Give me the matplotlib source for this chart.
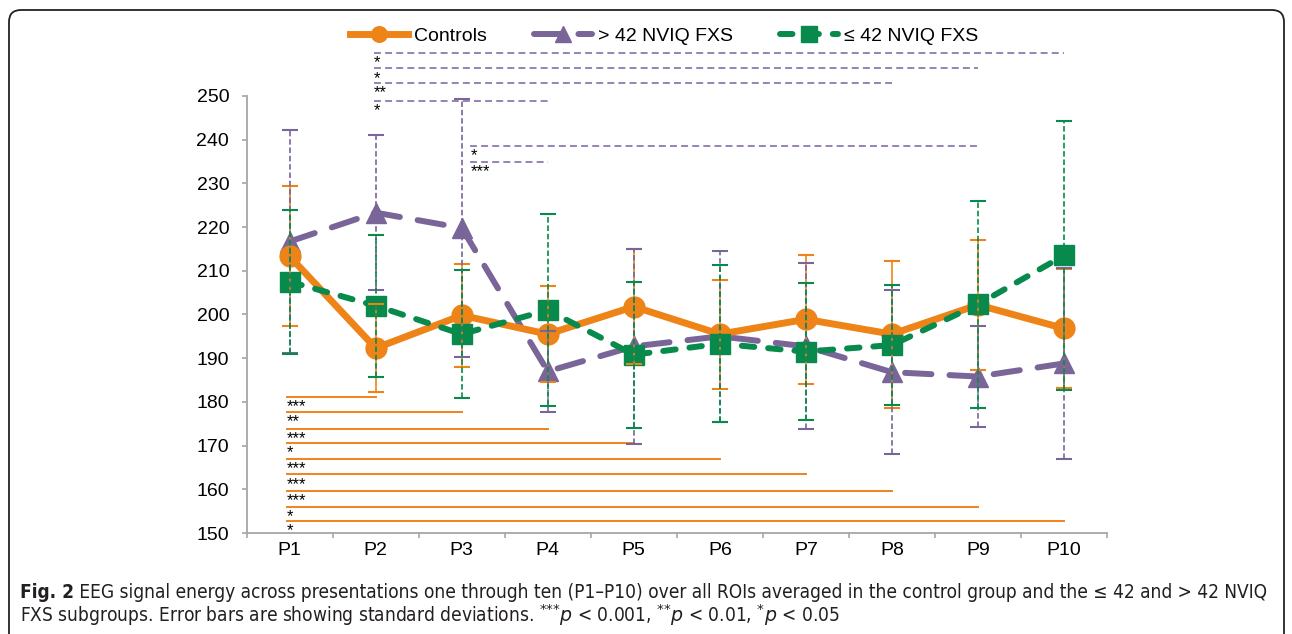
import matplotlib
matplotlib.use("Agg")
import matplotlib.pyplot as plt
from matplotlib import font_manager
from matplotlib.patches import FancyBboxPatch
from matplotlib.transforms import IdentityTransform
import numpy as np

# ---- data ----
categories = ["P1", "P2", "P3", "P4", "P5", "P6", "P7", "P8", "P9", "P10"]

controls = [213.3, 192.3, 199.8, 195.5, 201.8, 195.5, 198.9, 195.5, 202.2, 196.8]
controls_sd = [16.0, 10.0, 11.8, 11.0, 13.2, 12.5, 14.7, 16.8, 14.8, 13.7]

high_nviq = [216.7, 223.3, 219.8, 187.0, 192.7, 195.0, 192.7, 186.8, 185.8, 188.8]
high_nviq_sd = [25.6, 17.8, 29.5, 9.3, 22.3, 19.5, 19.0, 18.8, 11.5, 21.8]

low_nviq = [207.5, 202.0, 195.5, 201.0, 190.8, 193.3, 191.5, 193.0, 202.3, 213.5]
low_nviq_sd = [16.5, 16.2, 14.6, 22.0, 16.7, 18.0, 15.7, 13.7, 23.7, 30.8]

# significance brackets: controls P1 vs Pk
ctrl_sig_end = [2, 3, 4, 5, 6, 7, 8, 9, 10]
ctrl_sig_level = [181.2, 177.8, 173.9, 170.7, 166.9, 163.4, 159.6, 156.0, 152.7]
ctrl_sig_label = ["***", "**", "***", "*", "***", "***", "***", "*", "*"]

# > 42 NVIQ FXS: P2 vs Pk and P3 vs Pk
p2_sig_end = [10, 9, 8, 4]
p2_sig_level = [259.8, 256.3, 252.9, 248.9]
p2_sig_label = ["*", "*", "**", "*"]
p3_sig_end = [9, 4]
p3_sig_level = [238.6, 235.0]
p3_sig_label = ["*", "***"]

ORANGE = "#EE8418"
PURPLE = "#7A6599"
GREEN = "#078A4B"

# caption font: a condensed sans if one is installed
cap_family, cap_stretch = "Liberation Sans", "normal"
for f in font_manager.fontManager.ttflist:
    narrow = ("Narrow" in f.name or "Condensed" in f.name
              or f.stretch in ("condensed", "semi-condensed", 500 - 100, 300))
    if narrow and f.style == "normal" and f.weight in (400, "normal", "regular"):
        cap_family, cap_stretch = f.name, f.stretch
        break

plt.rcParams["font.family"] = ["Liberation Sans", "DejaVu Sans"]
plt.rcParams["lines.scale_dashes"] = False
plt.rcParams["mathtext.fontset"] = "custom"
plt.rcParams["mathtext.rm"] = cap_family
plt.rcParams["mathtext.it"] = cap_family + ":italic"

fig = plt.figure(figsize=(12.92, 6.34), dpi=100)
ax = fig.add_axes([0.1909, 0.1593, 0.6659, 0.6893])
x = np.arange(1, len(categories) + 1)

# ---- series ----
l_hi, = ax.plot(x, high_nviq, color=PURPLE, lw=4.3, ls=(0, (19, 13)), dash_capstyle="round",
                marker="^", ms=15, zorder=3, label="> 42 NVIQ FXS")
l_ct, = ax.plot(x, controls, color=ORANGE, lw=5, marker="o", ms=15, zorder=4, label="Controls")
l_lo, = ax.plot(x, low_nviq, color=GREEN, lw=4.3, ls=(0, (9, 10)), dash_capstyle="round",
                marker="s", ms=15, zorder=5, label="\u2264 42 NVIQ FXS")

for y, sd, c, ls in [(controls, controls_sd, ORANGE, "-"),
                     (high_nviq, high_nviq_sd, PURPLE, (0, (4, 2))),
                     (low_nviq, low_nviq_sd, GREEN, (0, (4, 2)))]:
    eb = ax.errorbar(x, y, yerr=sd, fmt="none", ecolor=c, elinewidth=1.2, capsize=6,
                     capthick=1.5, zorder=6)
    eb[2][0].set_linestyle(ls)

# ---- significance lines ----
for end, lev, lab in zip(ctrl_sig_end, ctrl_sig_level, ctrl_sig_label):
    ax.plot([0.97, end], [lev, lev], color=ORANGE, lw=1.4, clip_on=False, zorder=2)
    ax.text(0.97, lev - 0.5, lab, fontsize=12, va="top", ha="left")

for start, ends, levs, labs in [(1.98, p2_sig_end, p2_sig_level, p2_sig_label),
                               (3.1, p3_sig_end, p3_sig_level, p3_sig_label)]:
    for end, lev, lab in zip(ends, levs, labs):
        ax.plot([start, end], [lev, lev], color="#8C7AB0", lw=1.3, ls=(0, (5, 3)),
                clip_on=False, zorder=2)
        ax.text(start, lev - 0.5, lab, fontsize=12, va="top", ha="left")

# ---- axes ----
ax.set_xlim(0.5, 10.5)
ax.set_ylim(150, 250)
ax.set_yticks(range(150, 251, 10))
ax.set_xticks(np.arange(0.5, 11, 1))
ax.set_xticklabels([])
ax.set_xticks(x, minor=True)
ax.set_xticklabels(categories, minor=True)
ax.tick_params(axis="both", which="major", direction="out", length=3.6, width=1.2,
               color="#A6A6A6", labelsize=14)
ax.tick_params(axis="y", pad=9)
ax.tick_params(axis="x", which="minor", length=0, labelsize=14, pad=6.7)
for s in ["top", "right"]:
    ax.spines[s].set_visible(False)
for s in ["left", "bottom"]:
    ax.spines[s].set_color("#A6A6A6")
    ax.spines[s].set_linewidth(1.3)

fig.legend(handles=[l_ct, l_hi, l_lo], loc="center", bbox_to_anchor=(0.514, 0.943), ncol=3,
           frameon=False, fontsize=14, handlelength=3, columnspacing=2.4, handletextpad=0.3,
           numpoints=1, markerscale=0.75)

# ---- caption ----
renderer = fig.canvas.get_renderer()
W, H = 1292.0, 634.0
left = 20.0
cap_kw = dict(family=[cap_family, "DejaVu Sans"], fontstretch=cap_stretch, color="#231F20",
              va="baseline")
line1 = (" EEG signal energy across presentations one through ten (P1\u2013P10) over all ROIs "
         "averaged in the control group and the \u2264 42 and > 42 NVIQ")
line2 = (r"FXS subgroups. Error bars are showing standard deviations. "
         r"$^{{*}{*}{*}}p$ < 0.001, $^{{*}{*}}p$ < 0.01, $^{{*}}p$ < 0.05")

fs = 12.0
t_bold = fig.text(left / W, 1 - 598 / H, "Fig. 2", fontsize=fs, fontweight="bold", **cap_kw)
t_rest = fig.text(0, 1 - 598 / H, line1, fontsize=fs, **cap_kw)
w = t_bold.get_window_extent(renderer).width + t_rest.get_window_extent(renderer).width
fs = fs * (1272 - left) / w
t_bold.set_fontsize(fs)
t_rest.set_fontsize(fs)
wb = t_bold.get_window_extent(renderer).width
t_rest.set_x((left + wb) / W)
fig.text(left / W, 1 - 622 / H, line2, fontsize=fs, **cap_kw)

# rounded frame
frame = FancyBboxPatch((9, -20), 1275, 644, boxstyle="round,pad=0,rounding_size=12",
                       transform=IdentityTransform(), fill=False, ec="#222222", lw=1.3)
fig.add_artist(frame)

fig.savefig("out.png", dpi=100)
